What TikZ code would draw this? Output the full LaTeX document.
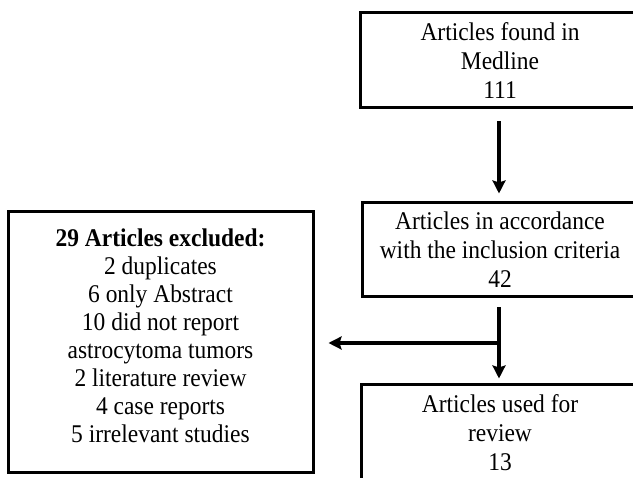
\documentclass[tikz,border=0pt]{standalone}
\usepackage{fontspec}
\setmainfont[FakeStretch=0.92]{Liberation Serif}
\usetikzlibrary{arrows.meta}
\begin{document}
\begin{tikzpicture}[x=1pt,y=1pt,
  box/.style={draw=black, line width=3pt, fill=white, align=center, inner sep=0pt,
    font=\fontsize{25.5}{29}\selectfont},
  txt/.style={align=center, inner sep=0pt, font=\fontsize{25.5}{28}\selectfont},
  arr/.style={line width=3.2pt, -{Stealth[length=13pt,width=13pt,inset=2pt]}}]
\useasboundingbox (0,0) rectangle (633,478);
\clip (0,0) rectangle (633,478);
\fill[white] (0,0) rectangle (633,478);
\node[box, minimum width=280pt, minimum height=95pt] (top) at (500,417.5)
  {Articles found in\\Medline\\111};
\node[box, minimum width=276pt, minimum height=94pt] (mid) at (500,228)
  {Articles in accordance\\with the inclusion criteria\\42};
\node[box, minimum width=278pt, minimum height=96pt] (bot) at (500,45)
  {Articles used for\\review\\13};
\node[box, minimum width=305pt, minimum height=261pt] (left) at (160.5,135.5) {};
\node[txt] (lefttext) at ([yshift=7pt]left.center)
  {\textbf{29 Articles excluded:}\\2 duplicates\\6 only Abstract\\10 did not report\\astrocytoma tumors\\2 literature review\\4 case reports\\5 irrelevant studies};
\draw[arr, shorten <=12pt, shorten >=8pt] (top.south -| 499,0) -- (mid.north -| 499,0);
\draw[arr, shorten <=9pt, shorten >=5pt] (mid.south -| 499,0) -- (bot.north -| 499,0);
\coordinate (brh) at (499,135);
\draw[arr, shorten >=14pt] (brh) -- (left.east |- brh);
\end{tikzpicture}
\end{document}
